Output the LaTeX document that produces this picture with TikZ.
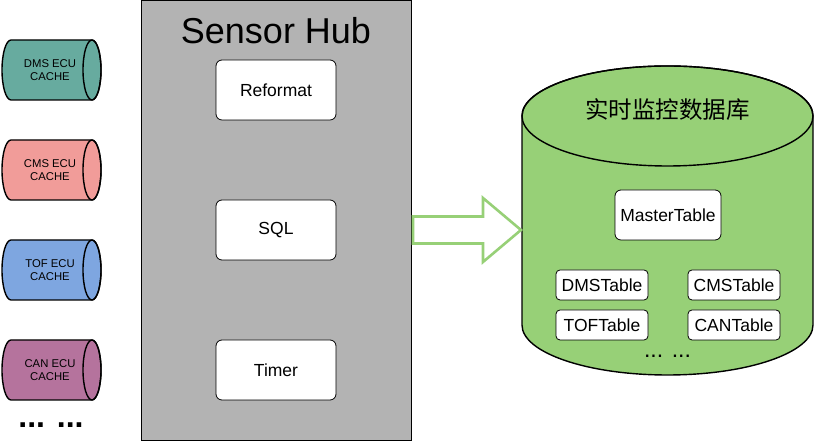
\documentclass[tikz,border=0pt]{standalone}
\usepackage{fontspec}
\setmainfont{Liberation Sans}
\newfontfamily\cjk{Noto Sans CJK SC}
\definecolor{dmsc}{HTML}{67AB9F}
\definecolor{cmsc}{HTML}{F19C99}
\definecolor{tofc}{HTML}{7EA6E0}
\definecolor{canc}{HTML}{B5739D}
\definecolor{hubc}{HTML}{B3B3B3}
\definecolor{dbc}{HTML}{97D077}
\begin{document}
\begin{tikzpicture}[x=1pt,y=1pt,
  cyltext/.style={align=center,font=\fontsize{11.3}{13.5}\selectfont,inner sep=0pt},
  hubbox/.style={draw=black,line width=0.8pt,fill=white,rounded corners=6pt,minimum width=120pt,minimum height=60pt,font=\fontsize{17.5}{20}\selectfont},
  tblbox/.style={draw=black,line width=0.8pt,fill=white,rounded corners=4pt,minimum width=92pt,minimum height=30pt,inner sep=0pt,font=\fontsize{17.5}{20}\selectfont},
  masterbox/.style={tblbox,minimum width=106pt,minimum height=50pt,rounded corners=6pt}
]
\useasboundingbox (0,0) rectangle (815,441);
% left cylinders
\foreach \n/\c/\y/\t in {dms/dmsc/371/DMS,cms/cmsc/271/CMS,tof/tofc/171/TOF,can/canc/71/CAN}{
  \filldraw[fill=\c,draw=black,line width=1.4pt]
    (11,\y+30) -- (92,\y+30) arc[start angle=90,end angle=-90,x radius=9pt,y radius=30pt]
    -- (11,\y-30) arc[start angle=270,end angle=90,x radius=9pt,y radius=30pt] -- cycle;
  \draw[black,line width=1.4pt] (92,\y) ellipse [x radius=9pt,y radius=30pt];
  \node[cyltext] (\n) at (50,\y) {\t\ ECU\\CACHE};
}
\node[font=\fontsize{32}{34}\selectfont\bfseries] (ldots) at (51,16) {... ...};
% sensor hub
\draw[fill=hubc,draw=black,line width=0.8pt] (141,1) rectangle (411,441);
\node[font=\fontsize{36}{40}\selectfont] (hubtitle) at (276,410) {Sensor Hub};
\node[hubbox] (reformat) at (276,351) {Reformat};
\node[hubbox] (sql) at (276,211) {SQL};
\node[hubbox] (timer) at (276,71) {Timer};
% database cylinder
\filldraw[fill=dbc,draw=black,line width=1.4pt]
  (522,325) -- (522,116) arc[start angle=180,end angle=360,x radius=145.5pt,y radius=50pt]
  -- (813,325) arc[start angle=0,end angle=180,x radius=145.5pt,y radius=50pt] -- cycle;
\draw[black,line width=1.4pt] (667.5,325) ellipse [x radius=145.5pt,y radius=50pt];
\node[font=\cjk\fontsize{23.5}{26}\selectfont] (dbtitle) at (667.5,331) {实时监控数据库};
\node[masterbox] (master) at (668,226) {MasterTable};
\node[tblbox] (dmst) at (602,156) {DMSTable};
\node[tblbox] (cmst) at (734,156) {CMSTable};
\node[tblbox] (toft) at (602,116) {TOFTable};
\node[tblbox] (cant) at (734,116) {CANTable};
\node[font=\fontsize{23}{25}\selectfont] (rdots) at (667.5,85) {... ...};
% block arrow
\coordinate (atip) at (521,211);
\draw[draw=dbc,fill=white,line width=2.6pt,line join=miter]
  (413,224.5) -- (483,224.5) -- (483,243) -- (atip) -- (483,179) -- (483,197.5) -- (413,197.5) -- cycle;
\end{tikzpicture}
\end{document}
